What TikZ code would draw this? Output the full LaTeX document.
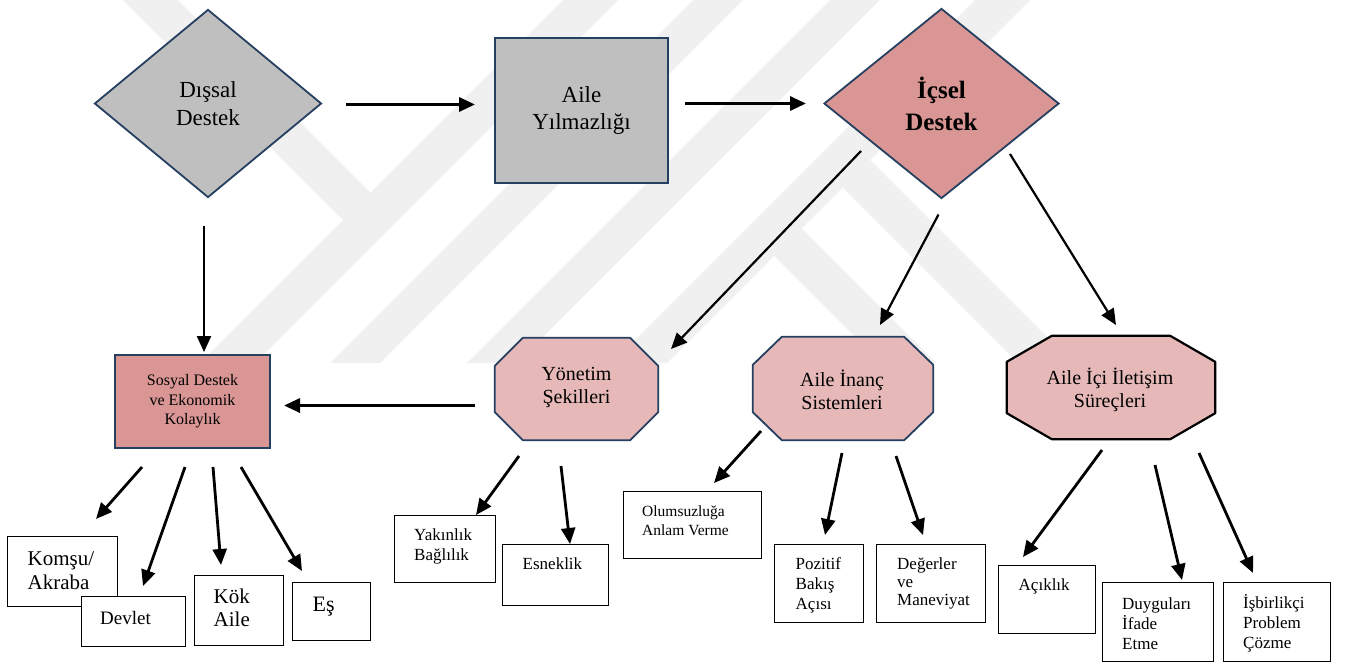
\documentclass[tikz,border=0pt]{standalone}
\usepackage{fontspec}
\setmainfont{Liberation Serif}
\usetikzlibrary{shapes.geometric,arrows.meta}
\definecolor{wm}{HTML}{F0F0F0}
\definecolor{grayfill}{HTML}{BFBFBF}
\definecolor{rosefill}{HTML}{D99694}
\definecolor{pinkfill}{HTML}{E6B9B8}
\definecolor{navy}{HTML}{243F60}
\tikzset{
  diam/.style={diamond, draw=navy, line width=1.8pt, inner sep=0pt, align=center},
  sqbox/.style={rectangle, draw=navy, line width=1.8pt, inner sep=0pt, align=center},
  octbase/.style={rectangle, draw=none, inner sep=0pt},
  octline/.style={draw=navy, fill=pinkfill, line width=1.8pt, line join=round},
  octtxt/.style={align=center, inner sep=0pt, font=\fontsize{20}{23.5}\selectfont},
  leaf/.style={rectangle, draw=black, fill=white, line width=1pt, inner sep=0pt},
  ltxt/.style={anchor=west, align=left, inner sep=0pt},
  arrthick/.style={-{Triangle[length=16pt,width=14pt]}, line width=3.2pt},
  arrthin/.style={-{Triangle[length=16pt,width=14pt]}, line width=2.2pt},
}
% octagon path around a named node: #1 node, #2 horizontal chamfer, #3 vertical chamfer
\newcommand{\octpath}[3]{%
  ([xshift=#2pt]#1.north west) -- ([xshift=-#2pt]#1.north east) --
  ([yshift=-#3pt]#1.north east) -- ([yshift=#3pt]#1.south east) --
  ([xshift=-#2pt]#1.south east) -- ([xshift=#2pt]#1.south west) --
  ([yshift=#3pt]#1.south west) -- ([yshift=-#3pt]#1.north west) -- cycle}
\begin{document}
\begin{tikzpicture}[x=1pt,y=-1pt]
\useasboundingbox (0,0) rectangle (1350,662);
% watermark
\fill[wm] (123,0) -- (178,0) -- (370.5,192.5) -- (343,220) -- cycle;
\fill[wm] (563,0) -- (618,0) -- (255,363) -- (200,363) -- cycle;
\fill[wm] (693,0) -- (743,0) -- (380,363) -- (330,363) -- cycle;
\fill[wm] (830,0) -- (880,0) -- (517,363) -- (467,363) -- cycle;
\fill[wm] (975,0) -- (1030,0) -- (667,363) -- (612,363) -- cycle;
\fill[wm] (746.5,228.5) -- (801.5,228.5) -- (936,363) -- (881,363) -- cycle;
\fill[wm] (815,160) -- (870,160) -- (1073,363) -- (1018,363) -- cycle;

% top row
\node[diam, fill=grayfill, minimum width=227, minimum height=188,
      font=\fontsize{23}{28}\selectfont] (dis) at (208,103.5) {Dışsal\\Destek};
\node[sqbox, fill=grayfill, minimum width=173, minimum height=145,
      font=\fontsize{23}{27}\selectfont] (aile) at (581.5,110.5) {Aile\\Yılmazlığı};
\node[diam, fill=rosefill, minimum width=235, minimum height=190,
      font=\fontsize{25}{32}\selectfont\bfseries] (icsel) at (941.5,103.5) {İçsel\\Destek};

% middle row
\node[sqbox, fill=rosefill, minimum width=155, minimum height=93,
      font=\fontsize{16}{19.5}\selectfont] (sos) at (192.5,401.5) {Sosyal Destek\\ve Ekonomik\\Kolaylık};

\node[octbase, minimum width=163, minimum height=102] (yon) at (576.5,389) {};
\path[octline] \octpath{yon}{28}{28};
\node[octtxt] (tyon) at (576.5,387.5) {Yönetim\\Şekilleri};

\node[octbase, minimum width=180, minimum height=103] (inanc) at (843,388.5) {};
\path[octline] \octpath{inanc}{29}{28};
\node[octtxt] (tinanc) at (842,390) {Aile İnanç\\Sistemleri};

\node[octbase, minimum width=208, minimum height=103] (ilet) at (1111,387.5) {};
\path[octline, draw=black, line width=2.2pt] \octpath{ilet}{45}{26};
\node[octtxt] (tilet) at (1110,390) {Aile İçi İletişim\\Süreçleri};

% leaf boxes
\node[leaf, minimum width=110, minimum height=70] (kom) at (62,571) {};
\node[leaf, minimum width=104, minimum height=50] (dev) at (133,621) {};
\node[leaf, minimum width=89, minimum height=70] (kok) at (238.5,610) {};
\node[leaf, minimum width=78, minimum height=58] (es) at (331,611) {};
\node[leaf, minimum width=101, minimum height=67] (yak) at (444.5,548.5) {};
\node[leaf, minimum width=106, minimum height=61] (esn) at (555,574.5) {};
\node[leaf, minimum width=138, minimum height=67] (olu) at (692,524.5) {};
\node[leaf, minimum width=88.5, minimum height=78] (poz) at (819,583.5) {};
\node[leaf, minimum width=108.5, minimum height=78] (deg) at (930.75,583.5) {};
\node[leaf, minimum width=97, minimum height=67.5] (aci) at (1046.5,599.25) {};
\node[leaf, minimum width=111, minimum height=78.5] (duy) at (1157.5,621.75) {};
\node[leaf, minimum width=106.5, minimum height=78.5] (isb) at (1276.75,621.75) {};

% leaf texts
\node[ltxt, font=\fontsize{21}{23.5}\selectfont] (tkom) at (27.5,570.5) {Komşu/\\Akraba};
\node[ltxt, font=\fontsize{19}{22}\selectfont] (tdev) at (100,618) {Devlet};
\node[ltxt, font=\fontsize{21}{23}\selectfont] (tkok) at (213.5,608) {Kök\\Aile};
\node[ltxt, font=\fontsize{22}{24}\selectfont] (tes) at (312.5,606.5) {Eş};
\node[ltxt, font=\fontsize{17}{20}\selectfont] (tyak) at (414,546) {Yakınlık\\Bağlılık};
\node[ltxt, font=\fontsize{17}{20}\selectfont] (tesn) at (522.5,564) {Esneklik};
\node[ltxt, font=\fontsize{15.5}{19}\selectfont] (tolu) at (642,520.3) {Olumsuzluğa\\Anlam Verme};
\node[ltxt, font=\fontsize{17}{20.3}\selectfont] (tpoz) at (795.5,585.5) {Pozitif\\Bakış\\Açısı};
\node[ltxt, font=\fontsize{17}{18.2}\selectfont] (tdeg) at (897,583.5) {Değerler\\ve\\Maneviyat};
\node[ltxt, font=\fontsize{17}{20}\selectfont] (taci) at (1018.5,586) {Açıklık};
\node[ltxt, font=\fontsize{17}{20}\selectfont] (tduy) at (1122,623.6) {Duyguları\\İfade\\Etme};
\node[ltxt, font=\fontsize{17}{20}\selectfont] (tisb) at (1243,623.6) {İşbirlikçi\\Problem\\Çözme};

% connector end points
\coordinate (c1s) at (346,104.5);  \coordinate (c1e) at (475,104.5);
\coordinate (c2s) at (685,103.5);  \coordinate (c2e) at (806,103.5);
\coordinate (c3s) at (204,226);    \coordinate (c3e) at (204,352);
\coordinate (c4s) at (475,405.5);  \coordinate (c4e) at (284,405.5);
\coordinate (i1s) at (861,151);    \coordinate (i1e) at (671,349);
\coordinate (i2s) at (938.5,214.5);\coordinate (i2e) at (880,325);
\coordinate (i3s) at (1010,154);   \coordinate (i3e) at (1116,325);
\coordinate (s1s) at (142,467);    \coordinate (s1e) at (96,519);
\coordinate (s2s) at (185,467);    \coordinate (s2e) at (143,586);
\coordinate (s3s) at (213,467);    \coordinate (s3e) at (221,565);
\coordinate (s4s) at (241,467);    \coordinate (s4e) at (302,571);
\coordinate (y1s) at (519,456);    \coordinate (y1e) at (476,515);
\coordinate (y2s) at (561,466);    \coordinate (y2e) at (570,544);
\coordinate (n1s) at (761,431);    \coordinate (n1e) at (714,483);
\coordinate (n2s) at (842,453);    \coordinate (n2e) at (825,535);
\coordinate (n3s) at (896,456);    \coordinate (n3e) at (923,535);
\coordinate (l1s) at (1102,450);   \coordinate (l1e) at (1023,557);
\coordinate (l2s) at (1155,465);   \coordinate (l2e) at (1182,580);
\coordinate (l3s) at (1199,453);   \coordinate (l3e) at (1253,573);

\draw[arrthick] (c1s) -- (c1e);
\draw[arrthick] (c2s) -- (c2e);
\draw[arrthin] (c3s) -- (c3e);
\draw[arrthick] (c4s) -- (c4e);
\draw[arrthin] (i1s) -- (i1e);
\draw[arrthin] (i2s) -- (i2e);
\draw[arrthin] (i3s) -- (i3e);
\foreach \a in {s1,s2,s3,s4,y1,y2,n1,n2,n3,l1,l2,l3}{
  \draw[arrthick, line width=2.8pt] (\a s) -- (\a e);
}
\end{tikzpicture}
\end{document}
